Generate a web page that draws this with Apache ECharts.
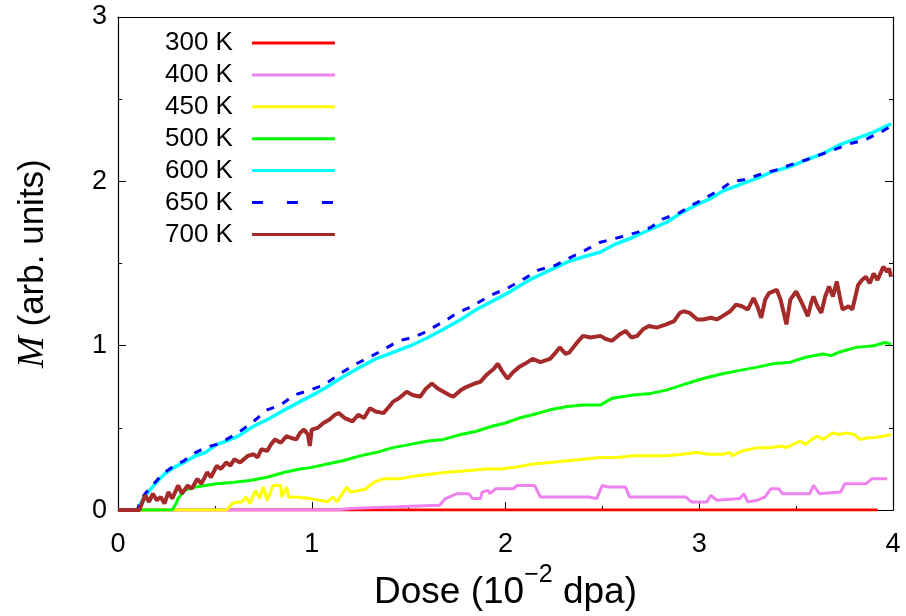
<!DOCTYPE html>
<html><head><meta charset="utf-8">
<script src="https://cdn.jsdelivr.net/npm/echarts@6/dist/echarts.min.js"></script>
<style>html,body{margin:0;padding:0;background:#fff}#c{width:906px;height:616px}</style>
</head><body><div id="c"></div>
<script>
// ---- data (dose in 10^-2 dpa, M in arb. units) ----
const seriesNames = ['300 K','400 K','450 K','500 K','600 K','650 K','700 K'];
const xTickValues = [0,1,2,3,4];
const yTickValues = [0,1,2,3];

const m300 = [[0,0],[1,0],[2,0],[3,0],[3.92,0]];

const m400 = [[0,0],[1.12,0],[1.20,0.01],[1.44,0.02],[1.55,0.025],[1.66,0.03],[1.69,0.07],[1.75,0.10],[1.81,0.10],[1.83,0.07],[1.87,0.07],[1.88,0.11],[1.91,0.12],[1.92,0.10],[1.95,0.13],[2.04,0.13],[2.06,0.15],[2.15,0.15],[2.18,0.08],[2.28,0.08],[2.35,0.08],[2.43,0.08],[2.47,0.07],[2.50,0.15],[2.53,0.14],[2.62,0.14],[2.64,0.08],[2.70,0.08],[2.76,0.08],[2.82,0.08],[2.93,0.08],[2.96,0.05],[3.04,0.05],[3.06,0.09],[3.09,0.06],[3.21,0.07],[3.23,0.10],[3.25,0.05],[3.30,0.06],[3.34,0.08],[3.37,0.13],[3.41,0.13],[3.43,0.10],[3.57,0.10],[3.59,0.15],[3.62,0.10],[3.73,0.11],[3.75,0.16],[3.86,0.16],[3.89,0.19],[3.97,0.19]];

const m450 = [[0,0],[0.56,0],[0.59,0.04],[0.62,0.05],[0.64,0.05],[0.66,0.08],[0.68,0.04],[0.71,0.12],[0.73,0.07],[0.75,0.14],[0.77,0.06],[0.80,0.15],[0.84,0.15],[0.845,0.08],[0.87,0.14],[0.88,0.08],[0.92,0.08],[0.99,0.07],[1.04,0.06],[1.08,0.05],[1.11,0.08],[1.13,0.05],[1.18,0.14],[1.20,0.11],[1.25,0.12],[1.28,0.13],[1.32,0.17],[1.37,0.19],[1.45,0.19],[1.55,0.21],[1.62,0.22],[1.70,0.23],[1.80,0.24],[1.90,0.25],[1.97,0.25],[2.05,0.26],[2.14,0.28],[2.23,0.29],[2.32,0.30],[2.40,0.31],[2.49,0.32],[2.58,0.32],[2.66,0.33],[2.75,0.33],[2.83,0.33],[2.91,0.34],[2.99,0.35],[3.05,0.34],[3.12,0.34],[3.16,0.35],[3.17,0.33],[3.22,0.36],[3.30,0.38],[3.36,0.38],[3.43,0.39],[3.45,0.38],[3.52,0.42],[3.55,0.40],[3.58,0.43],[3.61,0.45],[3.64,0.43],[3.69,0.47],[3.72,0.46],[3.76,0.47],[3.80,0.46],[3.83,0.43],[3.87,0.44],[3.90,0.44],[3.95,0.45],[3.99,0.46]];

const m500 = [[0,0],[0.28,0],[0.30,0.04],[0.31,0.07],[0.33,0.10],[0.34,0.12],[0.37,0.13],[0.40,0.14],[0.45,0.15],[0.51,0.16],[0.60,0.17],[0.68,0.18],[0.77,0.20],[0.86,0.23],[0.94,0.25],[1.00,0.26],[1.08,0.28],[1.16,0.30],[1.25,0.33],[1.33,0.35],[1.42,0.38],[1.51,0.40],[1.60,0.42],[1.68,0.43],[1.77,0.46],[1.85,0.48],[1.93,0.51],[2.00,0.53],[2.07,0.56],[2.14,0.58],[2.23,0.61],[2.32,0.63],[2.40,0.64],[2.49,0.64],[2.55,0.68],[2.66,0.70],[2.75,0.71],[2.83,0.73],[2.91,0.76],[2.99,0.79],[3.05,0.81],[3.12,0.83],[3.21,0.85],[3.30,0.87],[3.38,0.89],[3.47,0.90],[3.55,0.93],[3.64,0.95],[3.68,0.94],[3.72,0.96],[3.81,0.99],[3.90,1.00],[3.96,1.02],[3.99,1.01]];

const m600 = [[0,0],[0.10,0],[0.12,0.05],[0.15,0.10],[0.17,0.13],[0.20,0.17],[0.24,0.22],[0.29,0.26],[0.34,0.29],[0.40,0.33],[0.45,0.35],[0.51,0.40],[0.56,0.42],[0.62,0.45],[0.70,0.51],[0.77,0.55],[0.86,0.61],[0.94,0.66],[1.02,0.71],[1.08,0.75],[1.16,0.81],[1.25,0.87],[1.33,0.92],[1.42,0.96],[1.51,1.00],[1.60,1.05],[1.68,1.10],[1.77,1.16],[1.85,1.22],[1.93,1.27],[2.01,1.32],[2.08,1.37],[2.14,1.41],[2.23,1.46],[2.32,1.51],[2.40,1.54],[2.49,1.57],[2.57,1.62],[2.66,1.66],[2.75,1.71],[2.83,1.75],[2.91,1.81],[2.99,1.86],[3.05,1.89],[3.12,1.94],[3.21,1.98],[3.30,2.02],[3.38,2.06],[3.47,2.09],[3.55,2.13],[3.64,2.17],[3.72,2.22],[3.81,2.26],[3.90,2.30],[3.99,2.35]];

const m650 = [[0,0],[0.10,0],[0.115,0.055],[0.14,0.10],[0.17,0.14],[0.23,0.22],[0.29,0.27],[0.34,0.30],[0.40,0.35],[0.45,0.38],[0.51,0.40],[0.56,0.43],[0.62,0.47],[0.70,0.54],[0.77,0.61],[0.84,0.64],[0.91,0.70],[0.99,0.73],[1.06,0.76],[1.16,0.84],[1.23,0.89],[1.33,0.95],[1.45,1.03],[1.52,1.05],[1.58,1.08],[1.70,1.16],[1.75,1.20],[1.81,1.23],[1.93,1.31],[2.01,1.35],[2.10,1.41],[2.17,1.46],[2.26,1.49],[2.34,1.54],[2.41,1.58],[2.49,1.63],[2.59,1.66],[2.68,1.69],[2.75,1.72],[2.81,1.77],[2.90,1.81],[2.97,1.86],[3.02,1.89],[3.12,1.96],[3.17,2.00],[3.23,2.01],[3.31,2.04],[3.40,2.07],[3.47,2.10],[3.55,2.13],[3.62,2.16],[3.69,2.19],[3.78,2.23],[3.85,2.25],[3.94,2.30],[3.98,2.33]];

const m700 = [[0,0],[0.11,0],[0.13,0.06],[0.14,0.09],[0.16,0.05],[0.18,0.10],[0.20,0.06],[0.22,0.08],[0.24,0.04],[0.26,0.11],[0.28,0.07],[0.31,0.15],[0.33,0.10],[0.36,0.15],[0.38,0.13],[0.41,0.19],[0.43,0.16],[0.46,0.23],[0.48,0.20],[0.51,0.27],[0.53,0.25],[0.56,0.29],[0.58,0.27],[0.60,0.31],[0.63,0.29],[0.67,0.33],[0.70,0.34],[0.72,0.32],[0.74,0.37],[0.77,0.36],[0.79,0.40],[0.81,0.43],[0.84,0.41],[0.87,0.45],[0.89,0.44],[0.92,0.43],[0.94,0.47],[0.96,0.49],[0.98,0.46],[0.99,0.39],[1.00,0.49],[1.03,0.50],[1.06,0.53],[1.09,0.55],[1.12,0.58],[1.14,0.59],[1.17,0.56],[1.21,0.54],[1.24,0.58],[1.27,0.56],[1.30,0.62],[1.33,0.60],[1.37,0.59],[1.40,0.63],[1.42,0.66],[1.45,0.68],[1.49,0.72],[1.52,0.70],[1.56,0.69],[1.59,0.74],[1.62,0.77],[1.65,0.74],[1.68,0.72],[1.71,0.70],[1.73,0.69],[1.77,0.73],[1.80,0.75],[1.84,0.77],[1.87,0.78],[1.90,0.82],[1.92,0.84],[1.94,0.86],[1.96,0.89],[1.98,0.85],[2.01,0.80],[2.04,0.84],[2.07,0.87],[2.10,0.89],[2.14,0.92],[2.18,0.90],[2.23,0.92],[2.26,0.96],[2.28,0.99],[2.31,0.95],[2.33,0.96],[2.37,1.02],[2.40,1.06],[2.44,1.05],[2.49,1.06],[2.52,1.04],[2.55,1.03],[2.59,1.07],[2.62,1.09],[2.65,1.05],[2.68,1.06],[2.71,1.10],[2.74,1.12],[2.78,1.11],[2.83,1.13],[2.87,1.15],[2.90,1.20],[2.92,1.21],[2.95,1.20],[2.99,1.16],[3.02,1.16],[3.06,1.17],[3.09,1.16],[3.12,1.18],[3.16,1.21],[3.19,1.25],[3.22,1.24],[3.25,1.22],[3.28,1.29],[3.30,1.24],[3.32,1.17],[3.34,1.28],[3.36,1.32],[3.40,1.34],[3.42,1.28],[3.45,1.13],[3.47,1.28],[3.50,1.33],[3.53,1.26],[3.56,1.18],[3.58,1.27],[3.59,1.30],[3.61,1.24],[3.63,1.20],[3.65,1.30],[3.67,1.36],[3.69,1.30],[3.71,1.39],[3.73,1.27],[3.74,1.22],[3.77,1.24],[3.79,1.22],[3.82,1.37],[3.84,1.40],[3.86,1.42],[3.88,1.38],[3.90,1.44],[3.92,1.40],[3.95,1.48],[3.97,1.45],[3.98,1.47],[3.99,1.42]];

const seriesData = [m300, m400, m450, m500, m600, m650, m700];
const seriesColors = ['#ff0000','#ee82ee','#ffff00','#00ff00','#00ffff','#0000ff','#a52a2a'];

// ---- chart ----
const FONT = 'Liberation Sans';
const chart = echarts.init(document.getElementById('c'), null, {renderer: 'canvas'});

const widths = {'700 K': 4, '600 K': 3.5};
const series = seriesNames.map((name, i) => ({
  name: name,
  type: 'line',
  data: seriesData[i],
  symbol: 'circle',
  showSymbol: false,
  animation: false,
  xAxisIndex: 0, yAxisIndex: 0,
  lineStyle: {
    color: seriesColors[i],
    width: widths[name] || 3,
    type: name === '650 K' ? [8, 9] : 'solid'
  },
  itemStyle: {color: seriesColors[i]}
}));

const option = {
  backgroundColor: '#ffffff',
  animation: false,
  grid: {left: 118, right: 13, top: 17, bottom: 105, containLabel: false},
  legend: {
    orient: 'vertical',
    left: 160, top: 25,
    align: 'right',
    itemWidth: 83, itemHeight: 20, itemGap: 5.9,
    itemStyle: {opacity: 0, borderWidth: 0},
    textStyle: {fontFamily: FONT, fontSize: 26, color: '#000', padding: [0, 14, 0, 0]},
    data: seriesNames.map((n, i) => n === '650 K'
      ? {name: n, lineStyle: {type: [11, 24], width: 3}}
      : {name: n, lineStyle: {type: 'solid', width: 3}})
  },
  xAxis: [{
    type: 'value', min: 0, max: 4, interval: 1,
    position: 'bottom',
    axisLine: {show: true, onZero: false, lineStyle: {color: '#000', width: 1.2}},
    axisTick: {show: true, inside: true, length: 8, lineStyle: {color: '#000'}},
    minorTick: {show: true, splitNumber: 2, length: 4, lineStyle: {color: '#000'}},
    splitLine: {show: false},
    axisLabel: {fontFamily: FONT, fontSize: 27, color: '#000', margin: 21},
    name: '{t|Dose (10}{s|−2}{t| dpa)}',
    nameLocation: 'middle', nameGap: 48,
    nameTextStyle: {
      rich: {
        t: {fontFamily: FONT, fontSize: 37, color: '#000', lineHeight: 48, verticalAlign: 'bottom'},
        s: {fontFamily: FONT, fontSize: 25, color: '#000', lineHeight: 48, verticalAlign: 'top'}
      }
    }
  }, {
    type: 'value', min: 0, max: 4, interval: 1,
    position: 'top',
    axisLine: {show: true, onZero: false, lineStyle: {color: '#000', width: 1.2}},
    axisTick: {show: false}, axisLabel: {show: false}, splitLine: {show: false}
  }],
  yAxis: [{
    type: 'value', min: 0, max: 3, interval: 1,
    position: 'left',
    axisLine: {show: true, onZero: false, lineStyle: {color: '#000', width: 1.2}},
    axisTick: {show: true, inside: true, length: 8, lineStyle: {color: '#000'}},
    minorTick: {show: true, splitNumber: 2, length: 4, lineStyle: {color: '#000'}},
    splitLine: {show: false},
    axisLabel: {fontFamily: FONT, fontSize: 27, color: '#000', margin: 11},
    name: '{m|M}{t| (arb. units)}',
    nameLocation: 'middle', nameGap: 66, nameRotate: 90,
    nameTextStyle: {
      rich: {
        m: {fontFamily: 'Liberation Serif', fontStyle: 'italic', fontSize: 38, color: '#000'},
        t: {fontFamily: FONT, fontSize: 35, color: '#000'}
      }
    }
  }, {
    type: 'value', min: 0, max: 3, interval: 1,
    position: 'right',
    axisLine: {show: true, onZero: false, lineStyle: {color: '#000', width: 1.2}},
    axisTick: {show: true, inside: true, length: 8, lineStyle: {color: '#000'}},
    minorTick: {show: true, splitNumber: 2, length: 4, lineStyle: {color: '#000'}},
    splitLine: {show: false},
    axisLabel: {show: false}
  }],
  series: series
};
chart.setOption(option);
</script>
</body></html>
